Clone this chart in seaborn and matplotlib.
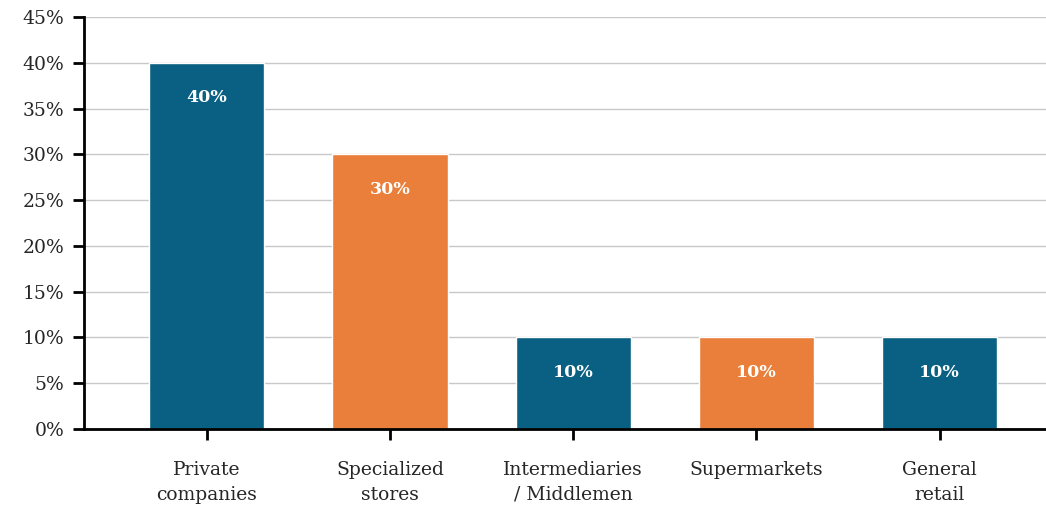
import matplotlib
matplotlib.use("Agg")
import matplotlib.pyplot as plt
import seaborn as sns
import pandas as pd

categories = ["Private\ncompanies", "Specialized\nstores", "Intermediaries\n/ Middlemen",
              "Supermarkets", "General\nretail"]
shares = [40, 30, 10, 10, 10]
bar_colors = ["#0A6082", "#E97F3A", "#0A6082", "#E97F3A", "#0A6082"]
y_ticks = [0, 5, 10, 15, 20, 25, 30, 35, 40, 45]
y_tick_labels = [f"{v}%" for v in y_ticks]

sns.set_theme(style="white")
plt.rcParams["font.family"] = ["DejaVu Serif"]

df = pd.DataFrame({"category": categories, "share": shares})

fig = plt.figure(figsize=(10.46, 5.07), dpi=100)
ax = fig.add_axes([0.0803, 0.1538, 0.9197, 0.8127])

sns.barplot(data=df, x="category", y="share", hue="category",
            palette=bar_colors, width=0.63, saturation=1, legend=False, ax=ax, zorder=3)

for patch, val in zip(ax.patches, shares):
    x = patch.get_x() + patch.get_width() / 2
    ax.text(x, val - 3.8, f"{val}%", ha="center", va="center",
            color="white", fontsize=12.5, fontweight="bold", zorder=4)

ax.set_ylim(0, 45)
ax.set_xlim(-0.67, 4.58)
ax.set_yticks(y_ticks)
ax.set_yticklabels(y_tick_labels, fontsize=13.5)
for lbl in ax.get_xticklabels():
    lbl.set_fontsize(13.5)
    lbl.set_linespacing(1.5)
ax.tick_params(axis="x", pad=15)
ax.set_xlabel("")
ax.set_ylabel("")
ax.yaxis.grid(True, color="#c8c8c8", linewidth=1, zorder=0)
ax.set_axisbelow(True)

for side in ["top", "right"]:
    ax.spines[side].set_visible(False)
for side in ["left", "bottom"]:
    ax.spines[side].set_color("black")
    ax.spines[side].set_linewidth(2)
    ax.spines[side].set_zorder(5)

ax.tick_params(axis="both", which="major", direction="out", length=8, width=2,
               color="black", left=True, bottom=True)
ax.tick_params(axis="y", pad=6)

fig.savefig("out.png", dpi=100)
